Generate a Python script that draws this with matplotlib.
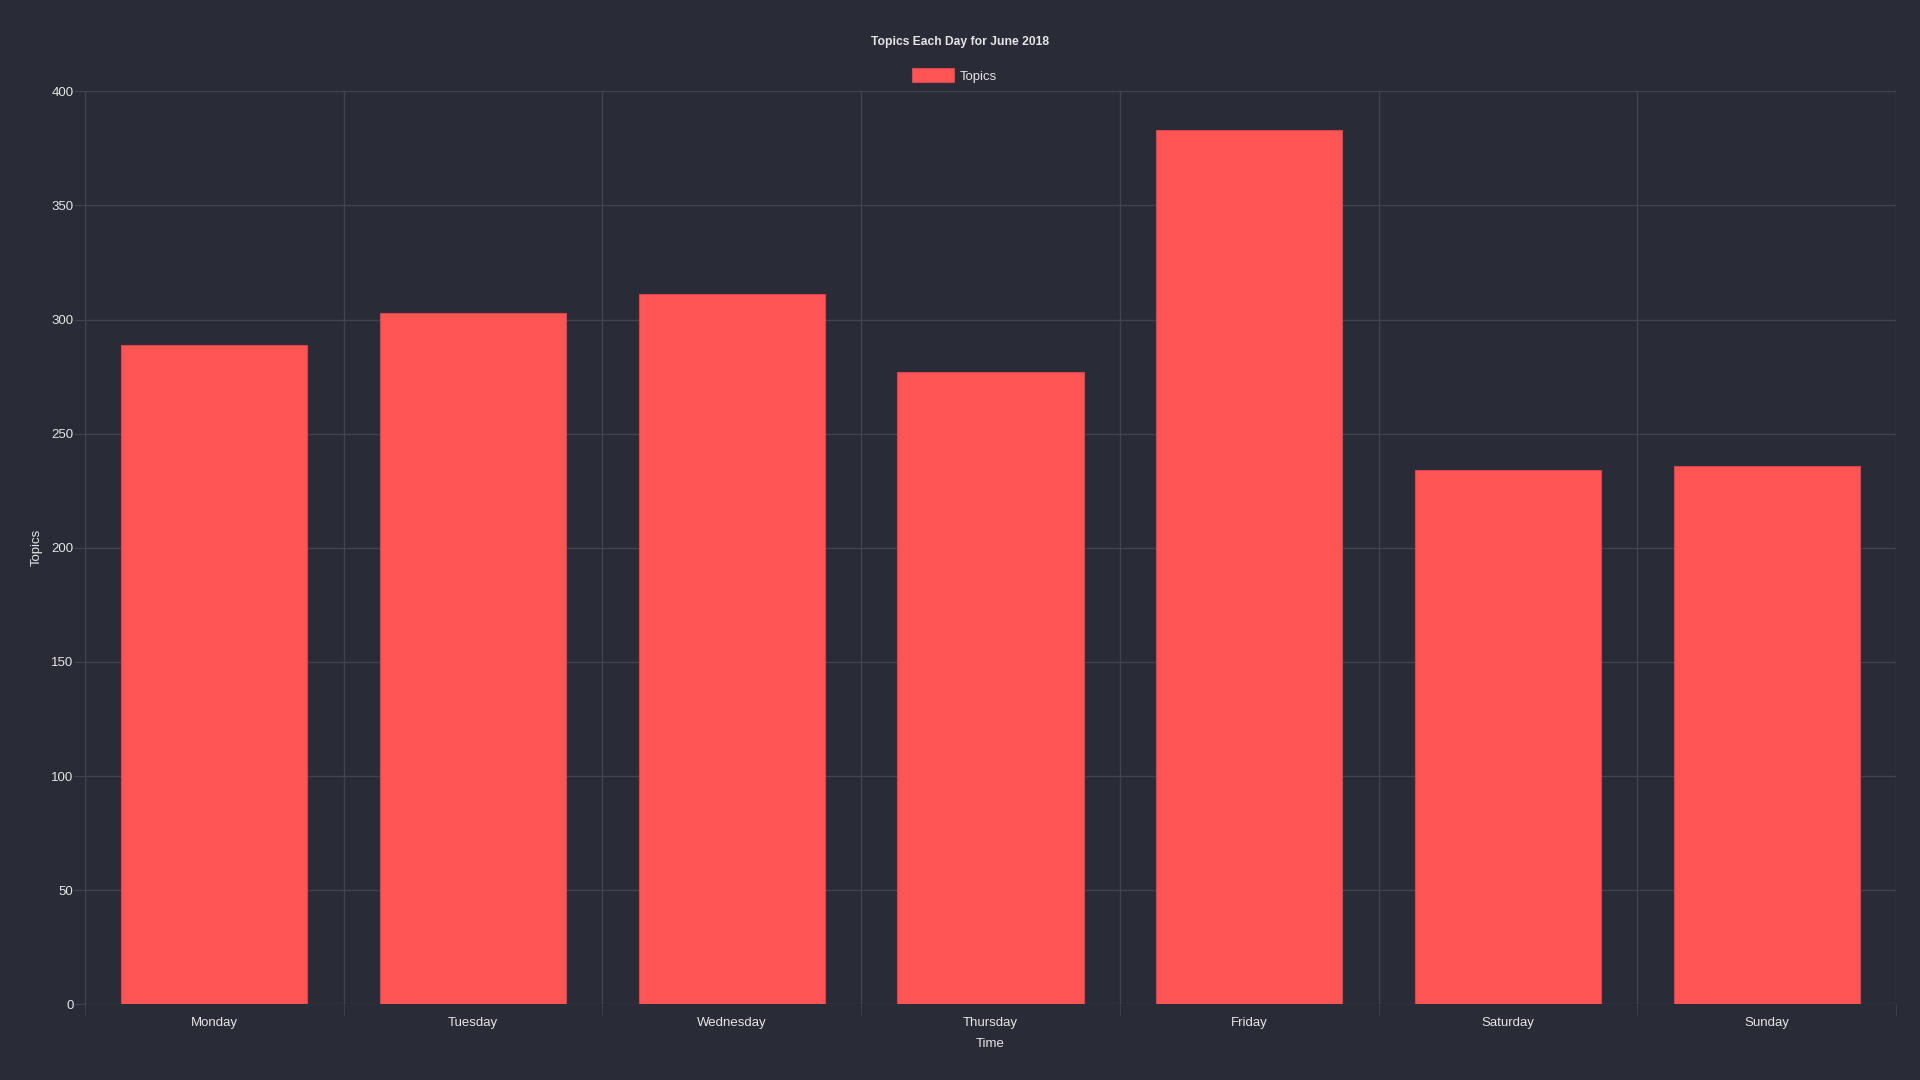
import matplotlib.pyplot as plt

plt.rcParams['font.family'] = ['Liberation Sans', 'DejaVu Sans']

days = ['Monday', 'Tuesday', 'Wednesday', 'Thursday', 'Friday', 'Saturday', 'Sunday']
topics = [289, 303, 311, 277, 383, 234, 236]
y_ticks = [0, 50, 100, 150, 200, 250, 300, 350, 400]

bg = '#292b37'
grid_col = '#41434f'
text_col = '#e6e6e6'
bar_col = '#ff5555'

fig = plt.figure(figsize=(19.2, 10.8), dpi=100, facecolor=bg)
ax = fig.add_axes([85 / 1920, 1 - 1004.3 / 1080, (1896 - 85) / 1920, (1004.3 - 91.3) / 1080])
ax.set_facecolor(bg)

x = range(len(days))
ax.bar(x, topics, width=0.72, color=bar_col, edgecolor='#d9454f', linewidth=0.8,
       label='Topics', zorder=3)

ax.set_xlim(-0.5, len(days) - 0.5)
ax.set_ylim(0, 400)
ax.set_yticks(y_ticks)
ax.set_xticks(list(x))
ax.set_xticklabels(days)
ax.set_xticks([i + 0.5 for i in range(-1, len(days))], minor=True)

ax.grid(True, axis='y', which='major', color=grid_col, linewidth=1, zorder=0)
ax.grid(True, axis='x', which='minor', color=grid_col, linewidth=1, zorder=0)
ax.tick_params(axis='y', which='major', length=7.7, color=grid_col, labelcolor=text_col,
               labelsize=9.5, pad=0.5)
ax.tick_params(axis='x', which='major', length=0, labelcolor=text_col, labelsize=9.5, pad=9)
ax.tick_params(axis='x', which='minor', length=8, color=grid_col)
for s in ax.spines.values():
    s.set_visible(False)
ax.axvline(-0.5, color=grid_col, linewidth=1, zorder=1)

ax.set_xlabel('Time', color=text_col, fontsize=9.5, labelpad=6.5)
ax.set_ylabel('Topics', color=text_col, fontsize=9.5, labelpad=6)

fig.text(0.5, 1 - 42.5 / 1080, 'Topics Each Day for June 2018', color=text_col,
         fontsize=8.7, fontweight='bold', ha='center', va='center')
leg = ax.legend(loc='center', bbox_to_anchor=((960 - 5.5) / 1920, 1 - 75.3 / 1080),
                bbox_transform=fig.transFigure, frameon=False, fontsize=9.5,
                handlelength=3.2, handleheight=1.3, handletextpad=0.4, labelcolor=text_col)

fig.savefig('out.png', dpi=100, facecolor=bg)
